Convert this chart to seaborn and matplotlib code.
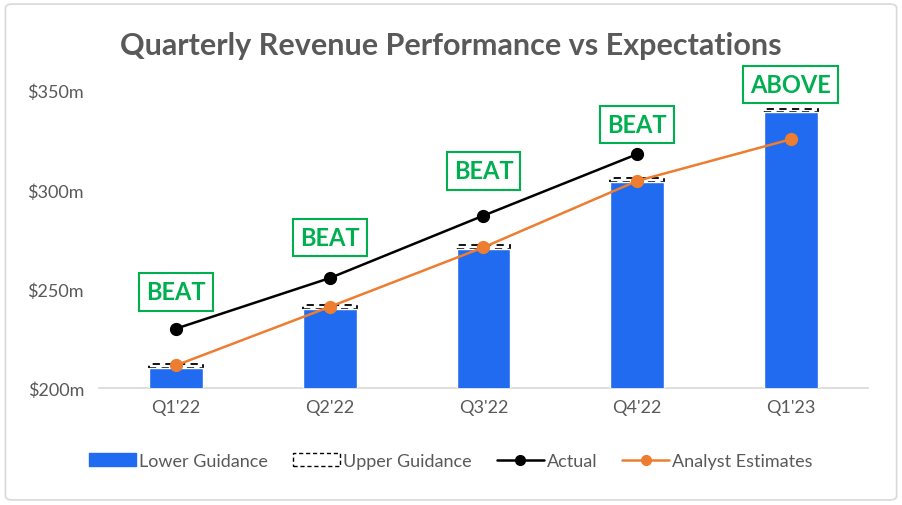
import matplotlib
matplotlib.use("Agg")
import matplotlib.pyplot as plt
import seaborn as sns
import numpy as np
import pandas as pd
from matplotlib.patches import FancyBboxPatch, Patch
from matplotlib.lines import Line2D

quarters = ["Q1'22", "Q2'22", "Q3'22", "Q4'22", "Q1'23"]
lower_guidance = [210, 240, 270, 304, 339]
upper_guidance = [212, 242, 272, 306, 341]
actual = [230, 255.5, 287, 318, np.nan]
analyst = [211.5, 241, 271, 304.5, 325.5]
verdicts = ["BEAT", "BEAT", "BEAT", "BEAT", "ABOVE"]
verdict_y = [248.5, 276, 309.5, 333, 353]
yticks = [200, 250, 300, 350]

sns.set_theme(style="white")
plt.rcParams['font.family'] = ['Lato', 'DejaVu Sans']

gray = "#595959"
blue = "#216BF0"
orange = "#ED7D31"
green = "#00B050"

fig = plt.figure(figsize=(9.02, 5.06), dpi=100)
ax = fig.add_axes([0.11, 0.231, 0.852, 0.627])

df = pd.DataFrame({"quarter": quarters, "lower": lower_guidance})
sns.barplot(data=df, x="quarter", y="lower", color=blue, width=0.35,
            saturation=1, ax=ax, zorder=3)
x = np.arange(len(quarters))
ax.bar(x, np.array(upper_guidance) - np.array(lower_guidance),
       bottom=lower_guidance, width=0.35, fill=False, edgecolor="black",
       linestyle=(0, (4, 3)), linewidth=1.3, zorder=2)
ax.plot(x, actual, color="black", marker="o", markersize=8.5, linewidth=1.8, zorder=4)
ax.plot(x, analyst, color=orange, marker="o", markersize=8.5, linewidth=1.8, zorder=5)

for xi, txt, yv in zip(x, verdicts, verdict_y):
    ax.text(xi, yv, txt, ha="center", va="center", fontsize=17, fontweight="bold",
            color=green,
            bbox=dict(boxstyle="square,pad=0.3", fc="white", ec=green, lw=1.5))

ax.set_ylim(200, 360)
ax.set_xlim(-0.5, 4.5)
ax.set_yticks(yticks)
ax.set_yticklabels([f"${v}m" for v in yticks])
ax.set_xlabel("")
ax.set_ylabel("")
for s in ["top", "right", "left"]:
    ax.spines[s].set_visible(False)
ax.spines["bottom"].set_color("#D9D9D9")
ax.tick_params(axis="both", colors=gray, labelsize=13, length=0)
ax.tick_params(axis="y", pad=11)
ax.tick_params(axis="x", pad=8)

fig.text(0.5, 0.91, "Quarterly Revenue Performance vs Expectations", ha="center",
         va="center", fontsize=22, fontweight="bold", color=gray)

handles = [
    Patch(facecolor=blue, edgecolor=blue),
    Patch(facecolor="white", edgecolor="black", linestyle=(0, (3, 2))),
    Line2D([0], [0], color="black", marker="o", markersize=7, lw=1.8),
    Line2D([0], [0], color=orange, marker="o", markersize=7, lw=1.8),
]
labels = ["Lower Guidance", "Upper Guidance", "Actual", "Analyst Estimates"]
leg = fig.legend(handles, labels, loc="center", bbox_to_anchor=(0.5, 0.087), ncol=4,
                 frameon=False, fontsize=13, handlelength=2.6, handletextpad=0.15,
                 columnspacing=1.4)
for t in leg.get_texts():
    t.set_color(gray)

border = FancyBboxPatch((0.006, 0.01), 0.988, 0.98, boxstyle="round,pad=0,rounding_size=0.008",
                        transform=fig.transFigure, fill=False, ec="#D9D9D9", lw=1.2)
fig.patches.append(border)

fig.savefig("out.png", dpi=100)
